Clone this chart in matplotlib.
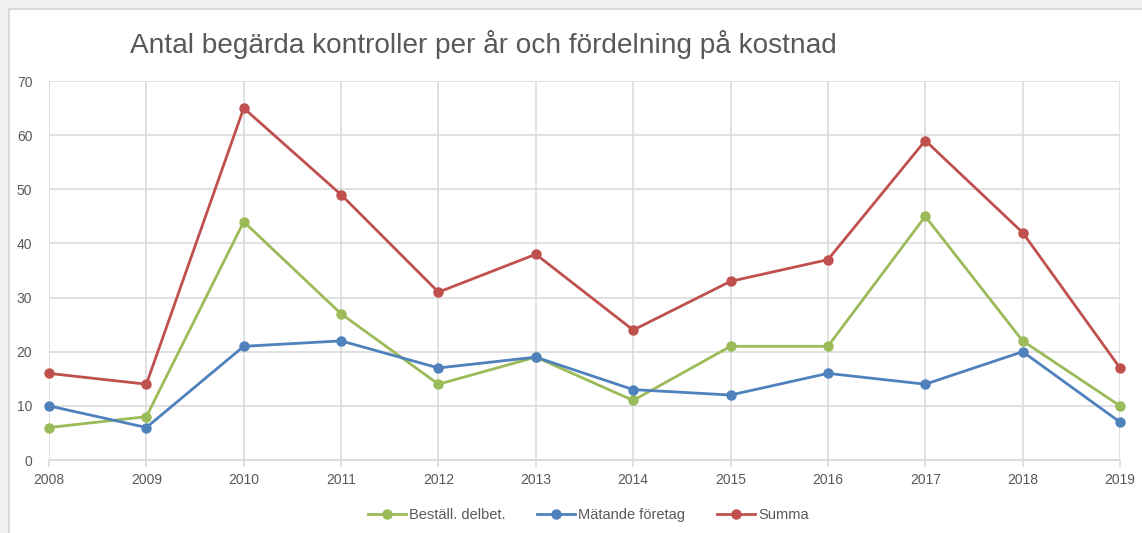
import matplotlib.pyplot as plt
from matplotlib.patches import Rectangle

years = [2008, 2009, 2010, 2011, 2012, 2013, 2014, 2015, 2016, 2017, 2018, 2019]
bestall = [6, 8, 44, 27, 14, 19, 11, 21, 21, 45, 22, 10]
matande = [10, 6, 21, 22, 17, 19, 13, 12, 16, 14, 20, 7]
summa = [16, 14, 65, 49, 31, 38, 24, 33, 37, 59, 42, 17]

plt.rcParams['font.family'] = ['Liberation Sans', 'DejaVu Sans']

fig = plt.figure(figsize=(11.42, 5.33), dpi=100, facecolor='#f0f0f0')
# white chart area with a thin border, as in the screenshot
fig.patches.append(Rectangle((9 / 1142, -0.02), 1.1, 1 - 9 / 533 + 0.02,
                             transform=fig.transFigure, facecolor='white',
                             edgecolor='#d4d4d4', linewidth=1.2, zorder=-5))

ax = fig.add_axes([49 / 1142, 1 - 460 / 533, (1120 - 49) / 1142, (460 - 81) / 533])
ax.set_facecolor('none')

grid_c = '#d9d9d9'
text_c = '#595959'

ax.plot(years, bestall, color='#9bbb59', lw=2, marker='o', ms=6.5, label='Beställ. delbet.',
        zorder=3, clip_on=False)
ax.plot(years, matande, color='#4f81bd', lw=2, marker='o', ms=6.5, label='Mätande företag',
        zorder=3, clip_on=False)
ax.plot(years, summa, color='#c0504d', lw=2, marker='o', ms=6.5, label='Summa',
        zorder=3, clip_on=False)

ax.set_xlim(2008, 2019)
ax.set_ylim(0, 70)
ax.set_xticks(years)
ax.set_yticks(range(0, 71, 10))
ax.grid(True, color=grid_c, lw=1.1)
ax.set_axisbelow(True)
for s in ['top', 'right', 'left']:
    ax.spines[s].set_visible(False)
ax.spines['bottom'].set_color(grid_c)
ax.spines['bottom'].set_linewidth(1.2)
ax.tick_params(axis='x', colors=grid_c, length=5, width=1.2, labelcolor=text_c, labelsize=10, pad=4)
ax.tick_params(axis='y', length=0, labelcolor=text_c, labelsize=10, pad=12)

fig.text(130 / 1142, 1 - 45 / 533, 'Antal begärda kontroller per år och fördelning på kostnad',
         fontsize=20.2, color=text_c, ha='left', va='center')

fig.legend(loc='center', bbox_to_anchor=(0.515, 1 - 515 / 533), ncol=3, frameon=False,
           fontsize=10.5, labelcolor=text_c, handlelength=2.6, handletextpad=0.2,
           columnspacing=2.2)

fig.savefig('out.png', dpi=100, facecolor=fig.get_facecolor())
